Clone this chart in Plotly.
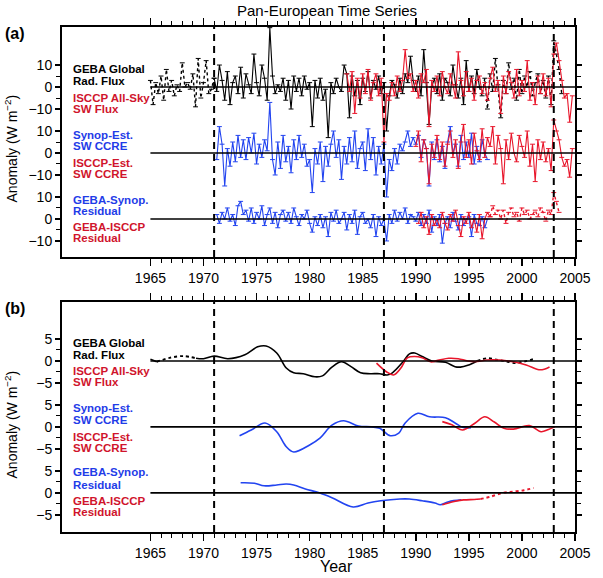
import plotly.graph_objects as go

# ------------------------------------------------------------------ data
STEP = 0.25  # quarterly anomalies in panel (a)

# Panel (a): GEBA global radiative flux anomaly (W m-2)
GEBA_A_START = 1965.0
GEBA_A = [3, -8, 2, -3, 5, -6, 8, -2, 3, -4, 1, -2, 11, 0, 2, -1,
          6, -9, 13, -5, 2, 12, -3, -1, 4, -2, 10, 3, -6, 7, -8, 2,
          5, -3, 9, -5, 6, 1, -3, 15, 2, -4, 10, 4, -6, 27, 5, -3,
          1, -2, 4, -6, 3, -10, 5, -2, 4, -4, 5, -1, 2, -18, 3, -5,
          4, -6, -1, -23, 2, -3, 4, 0, -2, 10, 6, -14, 5, -4, 3, -8,
          4, -2, 7, -5, 3, -1, 5, -3, 2, -20, -4, 3, 1, -5, 4, -3,
          6, 2, 14, 3, -2, 5, -4, 17, 2, -17, 0, 4, -3, 6, -6, 4,
          2, -4, 10, 1, -5, 4, -8, 12, -2, 5, -3, 8, 0, -4, 4, -10,
          6, -2, 13, 1, -14, 3, -3, 11, -1, 4, -6, 8, -3, 5, 0, 7,
          -4, 2, 6, -3, 3, -5, 5, -8, 21, 15, 8, -3]
GEBA_A_DOTTED = [(1965.0, 1971.0), (1996.0, 2004.0)]

# Panel (a): ISCCP all-sky SW flux anomaly
ISCCP_ALLSKY_A_START = 1983.5
ISCCP_ALLSKY_A = [6, -2, 7, -12, 4, -5, 6, -3, 8, -6, 2, 6, -4, 4,
                  -25, -3, -6, 2, -4, 5, -2, 3, 17, 4, 6, -2, 3, -5, 6, 2,
                  8, -18, 3, -2, 5, -4, 7, 0, -3, 6, 1, -5, 16, 3, -4, 7,
                  -2, 4, -6, 3, 5, -3, 2, -6, 4, 9, -2, 3, -12, 5, -3, 7,
                  2, -5, 8, -4, 3, -2, 12, -6, 2, -8, 5, -3, 6, -4, 4, -9,
                  15, 20, 12, 3, -5, -3, -16, -4]

# Panel (a): Synop-estimated SW cloud radiative effect
SYNOP_CCRE_A_START = 1971.25
SYNOP_CCRE_A = [-3, 12, 4, -15, 2, -6, 5, -4, 8, -2, 6, -3, 7, 0, 9,
                -5, 4, -2, 6, 1, 23, -3, -10, 5, -7, 8, -4, 3, -9, 6, -3,
                8, -2, 4, -6, -3, -18, 2, -5, 5, -13, 3, -6, 4, 10, -2, 6,
                -12, 3, -5, 7, -4, 10, -7, 2, 5, -8, 11, -3, 7, -10, 3, -5,
                4, -20, -3, -8, 2, -5, 4, 1, 5, 10, 3, 7, 4, 8, -2, 6,
                2, -15, 5, -3, 6, -4, 3, -7, 5, 12, 0, 4, -6, 8, -3, 5,
                -2, 9, -5, 3, -4, 6, 0, -3]

# Panel (a): ISCCP-estimated SW cloud radiative effect
ISCCP_CCRE_A_START = 1990.0
ISCCP_CCRE_A = [3, 10, -4, 6, 2, -14, 4, -2, 8, -3, 5, -6, 4, 10, -2, 6,
                -7, 5, 13, -2, 6, -5, 9, 1, -3, 11, -2, 7, 3, 12, -5, 8,
                2, -14, 6, -3, 9, 0, -4, 8, 3, -2, 10, -6, 4, -13, 6, -3,
                5, -4, 2, -8, 15, 10, 6, -2, -6, -3, -11, 2]

# Panel (a): GEBA - Synop residual
GEBA_SYNOP_RES_A_START = 1971.25
GEBA_SYNOP_RES_A = [2, -2, 3, 0, 5, -1, 2, -3, 6, 8, 2, 4, -1, 5, -2,
                    3, 0, 6, -3, 2, 5, -2, 3, -4, 2, 4, -1, 3, -2, 5, 1,
                    -3, 2, 0, 4, -2, -6, 1, -3, 2, -4, 1, -8, 3, -1, 4, -2,
                    0, 3, -5, 2, -2, 4, -7, 1, 3, -2, 0, -4, 2, -8, 1, -3,
                    0, -10, 2, -2, 4, -1, 3, 0, 5, -2, 2, 1, -1, 3, -3, 2,
                    -2, 4, -6, 1, -3, 2, -11, -2, 1, -4, 3, -1, -5, 2, -3, 0,
                    1, -8, 2, -2, -3, 1, -4, 0]

# Panel (a): GEBA - ISCCP residual
GEBA_ISCCP_RES_A_START = 1990.25
GEBA_ISCCP_RES_A = [-2, 3, -4, 1, -7, 2, -3, 0, -4, 3, -2, -5, 2, -1, 4,
                    -3, -8, 1, -2, 3, -4, 0, -6, 2, -9, 0, 3, 1, 6, 2, 4,
                    0, 4, -2, 3, 5, 1, 3, -1, 5, 2, 4, 0, 2, 4, 1, 5,
                    3, -1, 4, 2, 12, 8, 3]
GEBA_ISCCP_RES_A_DOTTED = [(1997.0, 2004.0)]

# Panel (b): smoothed series (years, values)
GEBA_B_YEARS = [1965.0, 1965.6, 1966.8, 1968.1, 1969.3, 1970.0, 1971.0, 1972.3, 1973.9,
                1975.1, 1975.9, 1976.9, 1977.8, 1978.5, 1979.4, 1980.5, 1981.2, 1982.1,
                1983.0, 1983.9, 1984.8, 1985.7, 1986.6, 1987.3, 1987.8, 1988.8, 1989.4,
                1989.9, 1990.6, 1991.5, 1992.8, 1993.7, 1994.2, 1994.9, 1995.8, 1996.7,
                1997.6, 1998.5, 1999.4, 2000.3, 2001.2]
GEBA_B = [0.4, -0.2, 0.7, 1.1, 0.6, 0.5, 1.1, 0.5, 1.4, 3.2, 3.4, 1.8, -1.6, -2.7, -2.9,
          -3.6, -3.4, -1.4, -0.2, -1.3, -2.7, -2.9, -2.9, -3.2, -2.7, -0.2, 1.6, 1.8, 1.0,
          0.0, -0.3, -1.3, -1.4, -1.0, 0.0, 0.6, 0.3, -0.1, -0.5, -0.1, 0.5]
GEBA_B_DOTTED = [(1965.6, 1969.3), (1995.8, 2001.2)]

ISCCP_ALLSKY_B_YEARS = [1986.3, 1987.2, 1987.9, 1988.6, 1989.2, 1989.9, 1990.6, 1991.4,
                        1992.2, 1993.1, 1994.0, 1994.9, 1995.8, 1996.7, 1997.9, 1999.2,
                        2000.4, 2001.6, 2002.1, 2002.6]
ISCCP_ALLSKY_B = [-0.5, -2.4, -3.2, -1.6, 0.7, 1.0, 0.7, -0.2, 0.2, 0.6, 0.5, 0.0, -0.1,
                  0.2, 0.2, -0.2, -0.9, -2.0, -1.9, -1.4]

SYNOP_CCRE_B_YEARS = [1973.4, 1974.5, 1975.8, 1976.9, 1977.8, 1978.5, 1980.0, 1981.0,
                      1982.1, 1983.2, 1984.6, 1985.8, 1986.6, 1987.6, 1988.4, 1989.0,
                      1990.2, 1991.3, 1992.8, 1993.7, 1994.4, 1995.2]
SYNOP_CCRE_B = [-2.0, -0.7, 0.9, -1.1, -4.5, -5.7, -4.1, -2.5, 0.4, 1.4, 0.2, 0.0, -0.3,
                -2.0, -1.4, 0.9, 3.1, 2.3, 2.1, 0.9, -0.1, -0.2]

ISCCP_CCRE_B_YEARS = [1992.5, 1993.4, 1994.4, 1995.6, 1996.5, 1997.4, 1998.3, 1999.2,
                      2000.7, 2001.8, 2002.5, 2003.1]
ISCCP_CCRE_B = [1.2, 0.5, -0.7, 0.9, 2.3, 1.1, -0.3, -0.5, 0.3, -1.1, -0.6, 0.0]

GEBA_SYNOP_RES_B_YEARS = [1973.5, 1974.8, 1975.7, 1976.9, 1977.8, 1978.5, 1979.6, 1980.9,
                          1982.1, 1984.1, 1985.5, 1986.7, 1988.5, 1989.4, 1990.6, 1991.8,
                          1992.3, 1993.1, 1994.3]
GEBA_SYNOP_RES_B = [2.3, 2.2, 1.6, 1.8, 2.0, 1.8, 0.9, 0.0, -1.1, -3.2, -2.3, -1.8, -1.4,
                    -1.4, -1.8, -2.3, -2.7, -2.0, -1.6]

GEBA_ISCCP_RES_B_YEARS = [1992.5, 1993.5, 1994.5, 1995.5, 1996.1, 1997.0, 1998.2, 1999.2,
                          2000.2, 2001.1]
GEBA_ISCCP_RES_B = [-2.7, -2.0, -1.6, -1.5, -1.4, -0.9, 0.0, 0.3, 0.6, 1.1]
GEBA_ISCCP_RES_B_DOTTED = [(1996.1, 2002.0)]

EVENT_YEARS = [1971, 1987, 2003]
X_MAJOR = [1965, 1970, 1975, 1980, 1985, 1990, 1995, 2000, 2005]
X_MINOR = [y for y in range(1965, 2006) if y % 5 != 0]

# ------------------------------------------------------------------ style
BLACK = "#000000"
RED = "#e8162b"
RED_TXT = "#d0142c"
BLUE = "#2244f0"
BLUE_TXT = "#1f3ce8"
FONT = "Liberation Sans, Arial, sans-serif"

W, H = 603, 578
ML, MR, MT, MB = 62, 13, 27, 46
PW = W - ML - MR
PH = H - MT - MB


def px(xp):
    return (xp - ML) / PW


def py(yp):
    return (H - MB - yp) / PH


A_OFF = [0, -30, -60]
B_OFF = [0, -15, -30]

fig = go.Figure()


def quarters(start, n):
    return [start + STEP * i for i in range(n)]


def split(xs, ys, spans):
    seg_dot = [any(a <= (xs[i] + xs[i + 1]) / 2 <= b for a, b in spans)
               for i in range(len(xs) - 1)]
    s, d = [], []
    for i in range(len(xs)):
        left = seg_dot[i - 1] if i > 0 else None
        right = seg_dot[i] if i < len(seg_dot) else None
        s.append(ys[i] if (left is False or right is False) else None)
        d.append(ys[i] if (left is True or right is True) else None)
    return s, d


def add(xs, ys, color, panel, offset, dash="solid", width=1.1, caps=False, spline=False):
    yy = [None if v is None else v + offset for v in ys]
    xa, ya = ("x", "y") if panel == "a" else ("x2", "y2")
    fig.add_trace(go.Scatter(
        x=xs, y=yy, xaxis=xa, yaxis=ya,
        mode="lines+markers" if caps else "lines",
        line=dict(color=color, width=width, dash=dash,
                  shape="spline" if spline else "linear", smoothing=1.0),
        marker=dict(symbol="line-ew", size=3.5, line=dict(color=color, width=1)),
        connectgaps=False, hoverinfo="skip", showlegend=False,
    ))


def add_series(xs, ys, color, panel, offset, spans=None, width=1.1, caps=False, spline=False):
    if spans:
        s, d = split(xs, ys, spans)
        add(xs, s, color, panel, offset, "solid", width, caps, spline)
        add(xs, d, color, panel, offset, "dot", width + 0.3, caps, spline)
    else:
        add(xs, ys, color, panel, offset, "solid", width, caps, spline)


# panel (a)
add_series(quarters(GEBA_A_START, len(GEBA_A)), GEBA_A, BLACK, "a", A_OFF[0], GEBA_A_DOTTED, caps=True)
add_series(quarters(ISCCP_ALLSKY_A_START, len(ISCCP_ALLSKY_A)), ISCCP_ALLSKY_A, RED, "a", A_OFF[0], caps=True)
add_series(quarters(SYNOP_CCRE_A_START, len(SYNOP_CCRE_A)), SYNOP_CCRE_A, BLUE, "a", A_OFF[1], caps=True)
add_series(quarters(ISCCP_CCRE_A_START, len(ISCCP_CCRE_A)), ISCCP_CCRE_A, RED, "a", A_OFF[1], caps=True)
add_series(quarters(GEBA_SYNOP_RES_A_START, len(GEBA_SYNOP_RES_A)), GEBA_SYNOP_RES_A, BLUE, "a", A_OFF[2], caps=True)
add_series(quarters(GEBA_ISCCP_RES_A_START, len(GEBA_ISCCP_RES_A)), GEBA_ISCCP_RES_A, RED, "a", A_OFF[2],
           GEBA_ISCCP_RES_A_DOTTED, caps=True)

# panel (b)
add_series(GEBA_B_YEARS, GEBA_B, BLACK, "b", B_OFF[0], GEBA_B_DOTTED, width=1.6, spline=True)
add_series(ISCCP_ALLSKY_B_YEARS, ISCCP_ALLSKY_B, RED, "b", B_OFF[0], width=1.6, spline=True)
add_series(SYNOP_CCRE_B_YEARS, SYNOP_CCRE_B, BLUE, "b", B_OFF[1], width=1.6, spline=True)
add_series(ISCCP_CCRE_B_YEARS, ISCCP_CCRE_B, RED, "b", B_OFF[1], width=1.6, spline=True)
add_series(GEBA_SYNOP_RES_B_YEARS, GEBA_SYNOP_RES_B, BLUE, "b", B_OFF[2], width=1.6, spline=True)
add_series(GEBA_ISCCP_RES_B_YEARS, GEBA_ISCCP_RES_B, RED, "b", B_OFF[2], GEBA_ISCCP_RES_B_DOTTED,
           width=1.6, spline=True)

# ------------------------------------------------------------------ shapes
shapes = []
for xr, yr, offs in (("x", "y", A_OFF), ("x2", "y2", B_OFF)):
    for o in offs:
        shapes.append(dict(type="line", xref=xr, yref=yr, x0=1965, x1=2005, y0=o, y1=o,
                           line=dict(color=BLACK, width=1.6), layer="above"))
    for ev in EVENT_YEARS:
        shapes.append(dict(type="line", xref=xr, yref=yr + " domain", x0=ev, x1=ev, y0=0, y1=1,
                           line=dict(color=BLACK, width=2, dash="7px,5px"), layer="above"))

# ------------------------------------------------------------------ axes
XMIN, XMAX = 1956.67, 2005.0


def xaxis(anchor):
    return dict(anchor=anchor, domain=[0, 1], range=[XMIN, XMAX],
                tickmode="array", tickvals=X_MAJOR, ticktext=[str(v) for v in X_MAJOR],
                ticks="outside", ticklen=7, tickwidth=1.5, tickcolor=BLACK,
                showline=True, linewidth=2, linecolor=BLACK, mirror="ticks",
                showgrid=False, zeroline=False,
                tickfont=dict(size=14, color=BLACK, family=FONT),
                minor=dict(tickmode="array", tickvals=X_MINOR, ticks="outside",
                           ticklen=4, tickwidth=1, tickcolor=BLACK, showgrid=False))


def yaxis(anchor, domain, rng, major, labels, minor):
    return dict(anchor=anchor, domain=domain, range=rng,
                tickmode="array", tickvals=major, ticktext=labels,
                ticks="outside", ticklen=5, tickwidth=1.5, tickcolor=BLACK,
                showline=True, linewidth=2, linecolor=BLACK, mirror="ticks",
                showgrid=False, zeroline=False,
                tickfont=dict(size=14, color=BLACK, family=FONT),
                minor=dict(tickmode="array", tickvals=minor, ticks="outside",
                           ticklen=4, tickwidth=1, tickcolor=BLACK, showgrid=False))


A_TICKS = [o + t for o in A_OFF for t in (10, 0, -10)]
A_LABELS = ["10", "0", "\u221210"] * 3
A_MINOR = [o + t for o in A_OFF for t in (5, -5)]
B_TICKS = [o + t for o in B_OFF for t in (5, 0, -5)]
B_LABELS = ["5", "0", "\u22125"] * 3
B_MINOR = [o + t for o in B_OFF for t in (2.5, -2.5)]

fig.update_layout(
    width=W, height=H,
    margin=dict(l=ML, r=MR, t=MT, b=MB),
    paper_bgcolor="white", plot_bgcolor="white",
    showlegend=False,
    font=dict(family=FONT, size=14, color=BLACK),
    xaxis=xaxis("y"),
    yaxis=yaxis("x", [py(257), 1.0], [-77.3, 27.3], A_TICKS, A_LABELS, A_MINOR),
    xaxis2=xaxis("y2"),
    yaxis2=yaxis("x2", [0.0, py(302)], [-38.9, 13.4], B_TICKS, B_LABELS, B_MINOR),
    shapes=shapes,
)

# ------------------------------------------------------------------ text
ann = []


def text(t, xp, yp, size=11.5, color=BLACK, bold=True, xanchor="left", angle=0):
    ann.append(dict(text=("<b>%s</b>" % t) if bold else t, xref="paper", yref="paper",
                    x=px(xp), y=py(yp), xanchor=xanchor, yanchor="middle",
                    showarrow=False, textangle=angle,
                    font=dict(size=size, color=color, family=FONT)))


LABELS = [
    ("GEBA Global", BLACK), ("Rad. Flux", BLACK),
    ("ISCCP All-Sky", RED_TXT), ("SW Flux", RED_TXT),
    ("Synop-Est.", BLUE_TXT), ("SW CCRE", BLUE_TXT),
    ("ISCCP-Est.", RED_TXT), ("SW CCRE", RED_TXT),
    ("GEBA-Synop.", BLUE_TXT), ("Residual", BLUE_TXT),
    ("GEBA-ISCCP", RED_TXT), ("Residual", RED_TXT),
]
A_LABEL_Y = [69, 81, 98, 109, 135, 146, 163, 174, 200, 211, 227, 238]
B_LABEL_Y = [343, 355, 371, 382, 408, 420, 437, 448, 472, 485, 501, 512]
for (t, c), ya, yb in zip(LABELS, A_LABEL_Y, B_LABEL_Y):
    text(t, 71, ya, color=c)
    text(t, 71, yb, color=c)

text("(a)", 1, 33, size=16)
text("(b)", 1, 308, size=16)
text("Pan-European Time Series", 335, 11, size=15, bold=False, xanchor="center")
text("Year", 345, 566, size=16, bold=False, xanchor="center")
text("Anomaly (W m<sup>\u22122</sup>)", 10, 148, size=14, bold=False, xanchor="center", angle=-90)
text("Anomaly (W m<sup>\u22122</sup>)", 10, 424, size=14, bold=False, xanchor="center", angle=-90)

fig.update_layout(annotations=ann)

fig.write_html("out.html",
               config={"displayModeBar": False, "staticPlot": True},
               post_script="document.body.style.margin='0';document.body.style.overflow='hidden';")
